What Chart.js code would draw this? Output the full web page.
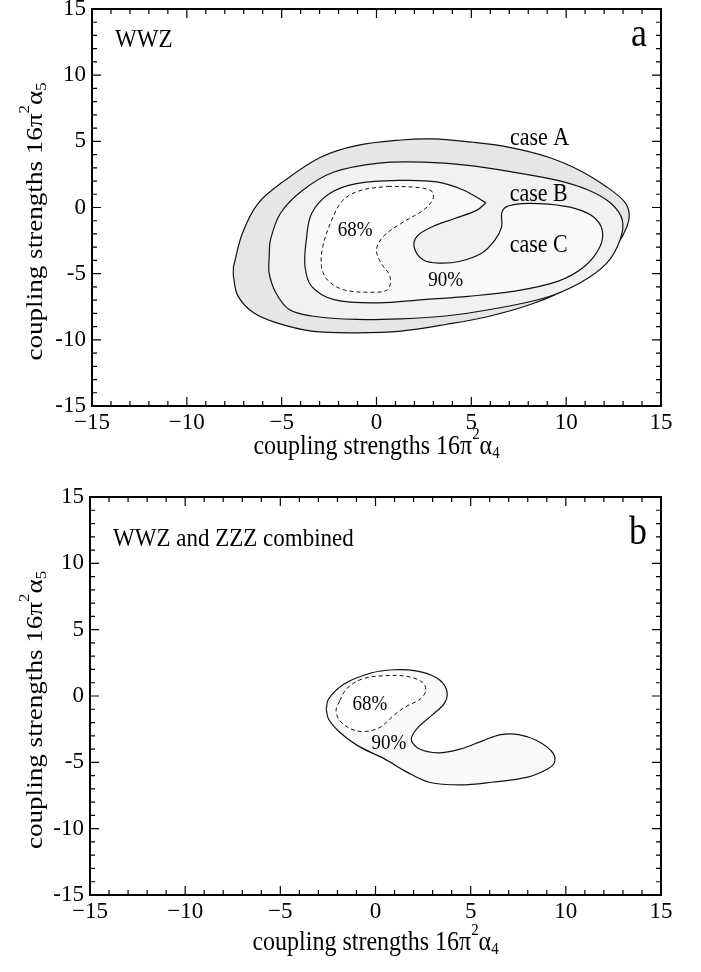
<!DOCTYPE html>
<html>
<head>
<meta charset="utf-8">
<script src="https://cdn.jsdelivr.net/npm/chart.js@4.4.1/dist/chart.umd.min.js"></script>
<style>
  html, body { margin: 0; padding: 0; background: #ffffff; }
  .panel { position: absolute; left: 0; width: 701px; height: 486px; }
</style>
</head>
<body>
<div class="panel" style="top:0"><canvas id="panelA" width="701" height="486"></canvas></div>
<div class="panel" style="top:486px"><canvas id="panelB" width="701" height="486"></canvas></div>
<script>
// Axis range and tick labels (both panels share them)
const axisMin = -15;
const axisMax = 15;
const tickValues = [-15, -10, -5, 0, 5, 10, 15];

// Panel a (WWZ): allowed regions in the (16π²α4, 16π²α5) plane
const caseA_x = [-7.54, -7.07, -6.25, -4.83, -2.95, -1.06, 1.3, 2.95, 5.07, 6.95, 9.07, 10.72, 12.14, 13.08, 13.32, 13.2, 12.73, 11.67, 10.25, 8.37, 6.0, 3.65, 1.3, -1.06, -3.42, -5.3, -6.48, -7.3, -7.54];
const caseA_y = [-4.46, -1.95, 0.3, 2.05, 3.8, 4.68, 5.1, 5.18, 4.93, 4.56, 3.8, 2.8, 1.55, 0.43, -0.45, -1.45, -2.7, -4.46, -5.96, -7.2, -8.2, -8.84, -9.34, -9.47, -9.34, -8.7, -7.96, -6.7, -5.2];

const caseB_x = [-5.66, -5.59, -5.07, -3.89, -2.24, 0.12, 2.47, 4.83, 7.19, 9.55, 11.19, 12.37, 12.96, 12.84, 12.14, 10.72, 8.84, 6.0, 3.65, 1.3, -1.06, -3.42, -4.6, -5.3, -5.66];
const caseB_y = [-3.7, -2.45, -0.45, 1.3, 2.68, 3.36, 3.43, 3.18, 2.68, 2.05, 1.3, 0.3, -0.95, -2.45, -4.2, -5.7, -6.84, -7.71, -8.2, -8.41, -8.46, -8.2, -7.71, -6.46, -4.96];

const caseC_x = [5.77, 4.6, 3.18, 1.3, -1.06, -2.47, -3.42, -3.7, -3.77, -3.42, -2.24, 0.12, 2.47, 4.83, 7.19, 9.55, 10.96, 11.78, 11.9, 11.43, 10.49, 9.07, 7.66, 6.84, 6.6, 6.6, 6.25, 5.54, 4.36, 3.3, 2.47, 2.0, 2.12, 2.95, 4.12, 5.3];
const caseC_y = [0.35, 1.3, 1.93, 2.05, 1.8, 1.05, -0.45, -2.45, -4.46, -5.96, -6.96, -7.2, -6.96, -6.71, -6.34, -5.58, -4.46, -2.96, -1.7, -0.7, -0.08, 0.25, 0.3, 0.05, -0.45, -1.45, -2.45, -3.46, -4.08, -4.2, -3.96, -3.08, -2.2, -1.45, -0.83, -0.2];

const wwz68_x = [0.59, 2.24, 2.95, 2.95, 2.47, 1.3, 0.35, 0.0, 0.24, 0.71, 0.59, -0.35, -1.77, -2.59, -2.9, -2.83, -2.36, -1.77, -0.82];
const wwz68_y = [1.6, 1.5, 1.18, 0.55, -0.2, -1.2, -2.2, -3.2, -4.2, -5.2, -6.2, -6.4, -6.2, -5.46, -4.46, -2.95, -0.95, 0.55, 1.3];

// Panel b (WWZ and ZZZ combined)
const comb90_x = [-2.59, -2.47, -1.65, -0.24, 0.94, 2.12, 3.18, 3.72, 3.65, 2.94, 2.24, 1.88, 2.24, 3.29, 4.47, 5.65, 6.59, 7.53, 8.47, 9.29, 9.41, 9.06, 8.0, 6.12, 4.47, 2.82, 1.65, 0.47, -0.94, -1.88, -2.47];
const comb90_y = [-0.98, -0.23, 0.9, 1.73, 1.98, 1.9, 1.4, 0.53, -0.48, -1.48, -2.36, -3.24, -3.94, -4.29, -3.99, -3.36, -2.91, -2.91, -3.36, -4.24, -4.99, -5.49, -6.12, -6.5, -6.7, -6.5, -5.74, -4.74, -3.74, -2.73, -1.73];

const comb68_x = [-1.88, -1.53, -0.71, 0.47, 1.65, 2.47, 2.64, 2.35, 1.53, 0.94, 0.24, -0.59, -1.29, -1.88, -2.07];
const comb68_y = [-0.35, 0.53, 1.28, 1.53, 1.48, 1.03, 0.4, -0.23, -0.85, -1.48, -2.36, -2.68, -2.48, -1.85, -1.1];

// Text placed inside the plots (data coordinates)
const labelsA = [
  { text: 'case A', x: 8.6, y: 5.25, size: 22 },
  { text: 'case B', x: 8.55, y: 1.0, size: 22 },
  { text: 'case C', x: 8.55, y: -2.85, size: 22 },
  { text: '68%', x: -1.13, y: -1.7, size: 19 },
  { text: '90%', x: 3.65, y: -5.5, size: 19 }
];
const labelsB = [
  { text: '68%', x: -0.3, y: -0.6, size: 19 },
  { text: '90%', x: 0.7, y: -3.55, size: 19 }
];

const SERIF = '"Liberation Serif", "Times New Roman", serif';
// the lettering is a little taller than wide
const STRETCH = 1.13;

function closedLoop(xs, ys) {
  const pts = xs.map((x, i) => ({ x: x, y: ys[i] }));
  pts.push({ x: xs[0], y: ys[0] });
  return pts;
}

function contour(xs, ys, fillColor, order, dashed) {
  return {
    data: closedLoop(xs, ys),
    borderColor: '#111111',
    borderWidth: dashed ? 1 : 1.2,
    borderDash: dashed ? [4, 3] : [],
    backgroundColor: fillColor,
    fill: fillColor ? 'shape' : false,
    tension: 0.35,
    pointRadius: 0,
    order: order
  };
}

// text drawn with a vertical stretch about its anchor point
function tallText(ctx, text, x, y, size, align, baseline) {
  ctx.save();
  ctx.translate(x, y);
  ctx.scale(1, STRETCH);
  ctx.font = size + 'px ' + SERIF;
  ctx.textAlign = align;
  ctx.textBaseline = baseline;
  ctx.fillText(text, 0, 0);
  ctx.restore();
}

// Frame, inward ticks, in-plot text and axis titles
const decorations = {
  id: 'decorations',
  afterDraw(chart, args, opts) {
    const ctx = chart.ctx;
    const area = chart.chartArea;
    const xs = chart.scales.x, ys = chart.scales.y;
    ctx.save();
    ctx.strokeStyle = '#000000';
    ctx.lineWidth = 1.2;
    ctx.beginPath();
    for (let v = axisMin; v <= axisMax; v++) {
      const len = v % 5 === 0 ? 9 : 5;
      const px = xs.getPixelForValue(v);
      ctx.moveTo(px, area.bottom); ctx.lineTo(px, area.bottom - len);
      ctx.moveTo(px, area.top); ctx.lineTo(px, area.top + len);
      const py = ys.getPixelForValue(v);
      ctx.moveTo(area.left, py); ctx.lineTo(area.left + len, py);
      ctx.moveTo(area.right, py); ctx.lineTo(area.right - len, py);
    }
    ctx.stroke();
    ctx.lineWidth = 2;
    ctx.strokeRect(area.left, area.top, area.right - area.left, area.bottom - area.top);

    ctx.fillStyle = '#000000';
    opts.labels.forEach(l => {
      tallText(ctx, l.text, xs.getPixelForValue(l.x), ys.getPixelForValue(l.y), l.size, 'center', 'middle');
    });

    tallText(ctx, opts.title, area.left + 23, area.top + opts.titleDy, opts.titleSize, 'left', 'alphabetic');
    tallText(ctx, opts.letter, area.right - 14, area.top + opts.letterDy, 36, 'right', 'alphabetic');

    const cx = (area.left + area.right) / 2;
    drawAxisTitle(ctx, cx, opts.xTitleY, 0, '4');
    const cy = (area.top + area.bottom) / 2;
    drawAxisTitle(ctx, opts.yTitleX, cy + opts.yTitleShift, -Math.PI / 2, '5');
    ctx.restore();
  }
};

// "coupling strengths 16π²α4/5" with a raised 2 and a lowered index
function drawAxisTitle(ctx, x, y, angle, index) {
  const F = 24;
  const parts = [
    { t: 'coupling strengths 16π', s: F, dy: 0 },
    { t: '2', s: F * 0.62, dy: -F * 0.45 },
    { t: 'α', s: F, dy: 0 },
    { t: index, s: F * 0.62, dy: F * 0.25 }
  ];
  ctx.save();
  ctx.translate(x, y);
  ctx.rotate(angle);
  if (angle === 0) ctx.scale(1, STRETCH); else ctx.scale(STRETCH, 1);
  ctx.textAlign = 'left';
  ctx.textBaseline = 'middle';
  let total = 0;
  parts.forEach(p => { ctx.font = p.s + 'px ' + SERIF; p.w = ctx.measureText(p.t).width; total += p.w; });
  let pos = -total / 2;
  parts.forEach(p => {
    ctx.font = p.s + 'px ' + SERIF;
    ctx.fillText(p.t, pos, p.dy);
    pos += p.w;
  });
  ctx.restore();
}

function makeOptions(cfg) {
  return {
    responsive: false,
    animation: false,
    events: [],
    layout: { padding: { top: cfg.top, right: cfg.right, left: 0, bottom: 0 } },
    plugins: {
      legend: { display: false },
      tooltip: { enabled: false },
      filler: { drawTime: 'beforeDatasetDraw' },
      decorations: cfg.deco
    },
    scales: {
      x: {
        type: 'linear', min: axisMin, max: axisMax,
        grid: { display: false, drawTicks: false },
        border: { display: false },
        afterBuildTicks: s => { s.ticks = tickValues.map(v => ({ value: v })); },
        ticks: {
          padding: 3, color: '#000000', maxRotation: 0, autoSkip: false,
          font: { family: SERIF, size: 23 },
          callback: v => String(v).replace('-', '\u2212')
        },
        afterFit: s => { s.height = cfg.xHeight; s.paddingLeft = 0; s.paddingRight = 0; }
      },
      y: {
        type: 'linear', min: axisMin, max: axisMax,
        grid: { display: false, drawTicks: false },
        border: { display: false },
        afterBuildTicks: s => { s.ticks = tickValues.map(v => ({ value: v })); },
        ticks: {
          padding: 6, color: '#000000', autoSkip: false,
          font: { family: SERIF, size: 23 },
          callback: v => String(v)
        },
        afterFit: s => { s.width = cfg.yWidth; s.paddingTop = 0; s.paddingBottom = 0; }
      }
    }
  };
}

new Chart(document.getElementById('panelA'), {
  type: 'line',
  data: {
    datasets: [
      contour(wwz68_x, wwz68_y, '#ffffff', 1, true),
      contour(caseC_x, caseC_y, '#f9f9f9', 2, false),
      contour(caseB_x, caseB_y, '#f0f1f1', 3, false),
      contour(caseA_x, caseA_y, '#e5e6e7', 4, false)
    ]
  },
  options: makeOptions({
    top: 9, right: 40, xHeight: 80, yWidth: 92,
    deco: { labels: labelsA, title: 'WWZ', titleSize: 23, titleDy: 38, letter: 'a', letterDy: 37,
            xTitleY: 447, yTitleX: 36, yTitleShift: 14 }
  }),
  plugins: [decorations]
});

new Chart(document.getElementById('panelB'), {
  type: 'line',
  data: {
    datasets: [
      contour(comb68_x, comb68_y, '#ffffff', 1, true),
      contour(comb90_x, comb90_y, '#f9f9f9', 2, false)
    ]
  },
  options: makeOptions({
    top: 11, right: 40, xHeight: 77, yWidth: 90,
    deco: { labels: labelsB, title: 'WWZ and ZZZ combined', titleSize: 23, titleDy: 49, letter: 'b', letterDy: 47,
            xTitleY: 457, yTitleX: 36, yTitleShift: 14 }
  }),
  plugins: [decorations]
});
</script>
</body>
</html>
